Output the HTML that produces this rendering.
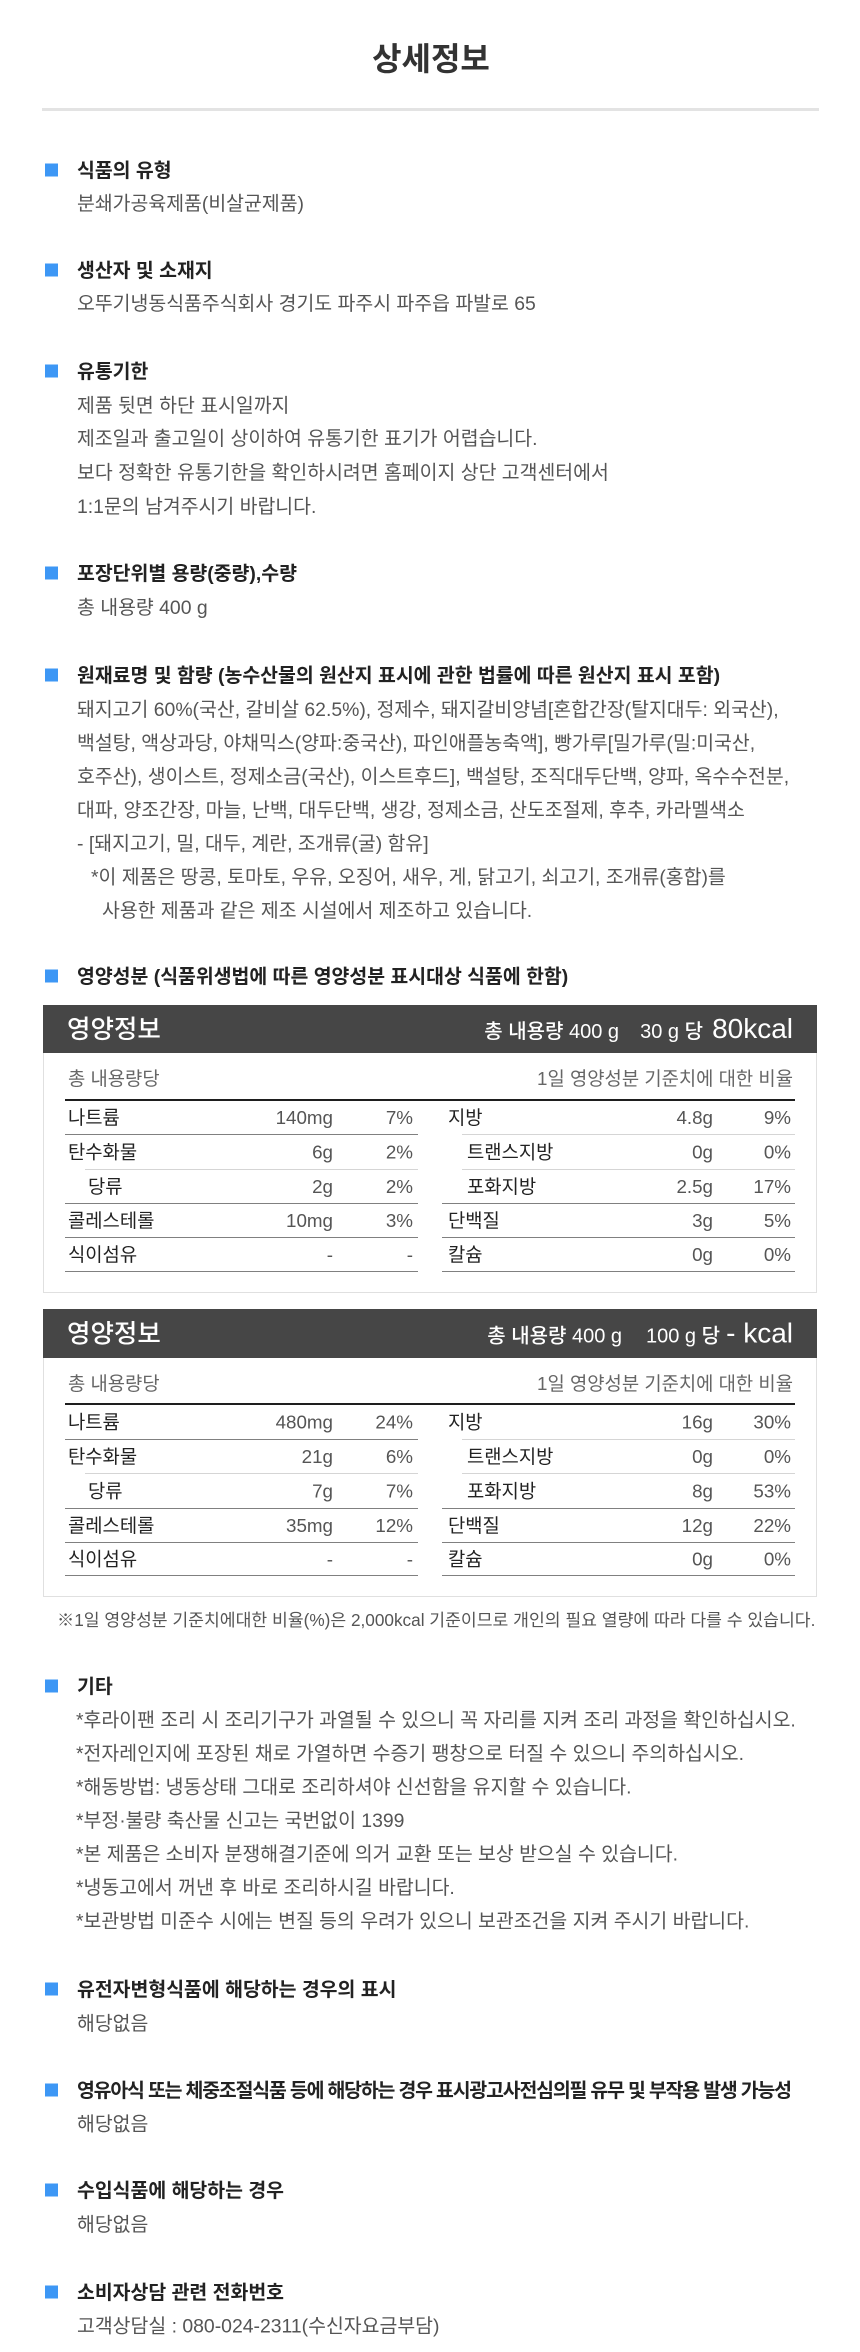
<!DOCTYPE html>
<html lang="ko">
<head>
<meta charset="utf-8">
<style>
html,body{margin:0;padding:0;background:#fff;}
body{width:860px;height:2352px;overflow:hidden;}
svg{display:block;}
text{font-family:"Liberation Sans","Noto Sans CJK KR",sans-serif;}
.t{font-size:32px;font-weight:700;fill:#333;}
.h{font-size:19.4px;font-weight:700;fill:#222;}
.b{font-size:19.4px;fill:#555;}
.sq{fill:#3d97f5;}
.hd{font-size:25.5px;fill:#fff;font-weight:500;}
.hr{font-size:20px;fill:#fff;font-weight:500;}
.hk{font-size:28px;fill:#fff;font-weight:500;}
.sub{font-size:18.8px;fill:#666;}
.lb{font-size:18.8px;fill:#222;}
.v{font-size:18.8px;fill:#555;}
.fn{font-size:17.2px;fill:#555;}
.dk{stroke:#808080;stroke-width:1;}
.lt{stroke:#d5d5d5;stroke-width:1;}
</style>
</head>
<body>
<svg width="860" height="2352" viewBox="0 0 860 2352" xmlns="http://www.w3.org/2000/svg">
<rect x="0" y="0" width="860" height="2352" fill="#fff"/>

<!-- Title -->
<text class="t" x="431" y="70" text-anchor="middle">상세정보</text>
<rect x="42" y="108" width="777" height="3" fill="#e3e3e3"/>

<!-- S1 -->
<rect class="sq" x="45" y="163.5" width="13" height="13"/>
<text class="h" x="77" y="177">식품의 유형</text>
<text class="b" x="77" y="210">분쇄가공육제품(비살균제품)</text>

<!-- S2 -->
<rect class="sq" x="45" y="263.5" width="13" height="13"/>
<text class="h" x="77" y="277">생산자 및 소재지</text>
<text class="b" x="77" y="310">오뚜기냉동식품주식회사 경기도 파주시 파주읍 파발로 65</text>

<!-- S3 -->
<rect class="sq" x="45" y="364.5" width="13" height="13"/>
<text class="h" x="77" y="378">유통기한</text>
<text class="b" x="77" y="412">제품 뒷면 하단 표시일까지</text>
<text class="b" x="77" y="445">제조일과 출고일이 상이하여 유통기한 표기가 어렵습니다.</text>
<text class="b" x="77" y="479">보다 정확한 유통기한을 확인하시려면 홈페이지 상단 고객센터에서</text>
<text class="b" x="77" y="513">1:1문의 남겨주시기 바랍니다.</text>

<!-- S4 -->
<rect class="sq" x="45" y="566.5" width="13" height="13"/>
<text class="h" x="77" y="580">포장단위별 용량(중량),수량</text>
<text class="b" x="77" y="614">총 내용량 400 g</text>

<!-- S5 -->
<rect class="sq" x="45" y="668.5" width="13" height="13"/>
<text class="h" x="77" y="682">원재료명 및 함량 (농수산물의 원산지 표시에 관한 법률에 따른 원산지 표시 포함)</text>
<text class="b" x="77" y="715.75">돼지고기 60%(국산, 갈비살 62.5%), 정제수, 돼지갈비양념[혼합간장(탈지대두: 외국산),</text>
<text class="b" x="77" y="749.25">백설탕, 액상과당, 야채믹스(양파:중국산), 파인애플농축액], 빵가루[밀가루(밀:미국산,</text>
<text class="b" x="77" y="782.75">호주산), 생이스트, 정제소금(국산), 이스트후드], 백설탕, 조직대두단백, 양파, 옥수수전분,</text>
<text class="b" x="77" y="816.25">대파, 양조간장, 마늘, 난백, 대두단백, 생강, 정제소금, 산도조절제, 후추, 카라멜색소</text>
<text class="b" x="77" y="849.75">- [돼지고기, 밀, 대두, 계란, 조개류(굴) 함유]</text>
<text class="b" x="91" y="883.25">*이 제품은 땅콩, 토마토, 우유, 오징어, 새우, 게, 닭고기, 쇠고기, 조개류(홍합)를</text>
<text class="b" x="102" y="916.75">사용한 제품과 같은 제조 시설에서 제조하고 있습니다.</text>

<!-- S6 -->
<rect class="sq" x="45" y="969.5" width="13" height="13"/>
<text class="h" x="77" y="983">영양성분 (식품위생법에 따른 영양성분 표시대상 식품에 한함)</text>

<!-- Table 1 -->
<g transform="translate(0,1005)">
  <rect x="43.5" y="0.5" width="773" height="287" fill="#fff" stroke="#e0e0e0" stroke-width="1"/>
  <rect x="43" y="0" width="774" height="48" fill="#464646"/>
  <text class="hd" x="67" y="33">영양정보</text>
  <text class="hr" x="619" y="33" text-anchor="end">총 내용량 400 g</text>
  <text class="hr" x="703" y="33" text-anchor="end">30 g 당</text>
  <text class="hk" x="793" y="33" text-anchor="end">80kcal</text>
  <text class="sub" x="68" y="80">총 내용량당</text>
  <text class="sub" x="793" y="80" text-anchor="end">1일 영양성분 기준치에 대한 비율</text>
  <rect x="65" y="94" width="730" height="2" fill="#1e1e1e"/>
  <line class="dk" x1="65" y1="129.5" x2="418" y2="129.5"/>
  <line class="lt" x1="85" y1="164.5" x2="418" y2="164.5"/>
  <line class="dk" x1="65" y1="198.5" x2="418" y2="198.5"/>
  <line class="dk" x1="65" y1="232.5" x2="418" y2="232.5"/>
  <line class="dk" x1="65" y1="266.5" x2="418" y2="266.5"/>
  <line class="lt" x1="462" y1="129.5" x2="795" y2="129.5"/>
  <line class="lt" x1="462" y1="164.5" x2="795" y2="164.5"/>
  <line class="dk" x1="442" y1="198.5" x2="795" y2="198.5"/>
  <line class="dk" x1="442" y1="232.5" x2="795" y2="232.5"/>
  <line class="dk" x1="442" y1="266.5" x2="795" y2="266.5"/>
  <text class="lb" x="68" y="119">나트륨</text>
  <text class="v" x="333" y="119" text-anchor="end">140mg</text>
  <text class="v" x="413" y="119" text-anchor="end">7%</text>
  <text class="lb" x="68" y="153.5">탄수화물</text>
  <text class="v" x="333" y="153.5" text-anchor="end">6g</text>
  <text class="v" x="413" y="153.5" text-anchor="end">2%</text>
  <text class="lb" x="88" y="188">당류</text>
  <text class="v" x="333" y="188" text-anchor="end">2g</text>
  <text class="v" x="413" y="188" text-anchor="end">2%</text>
  <text class="lb" x="68" y="222">콜레스테롤</text>
  <text class="v" x="333" y="222" text-anchor="end">10mg</text>
  <text class="v" x="413" y="222" text-anchor="end">3%</text>
  <text class="lb" x="68" y="256">식이섬유</text>
  <text class="v" x="333" y="256" text-anchor="end">-</text>
  <text class="v" x="413" y="256" text-anchor="end">-</text>
  <text class="lb" x="448" y="119">지방</text>
  <text class="v" x="713" y="119" text-anchor="end">4.8g</text>
  <text class="v" x="791" y="119" text-anchor="end">9%</text>
  <text class="lb" x="467" y="153.5">트랜스지방</text>
  <text class="v" x="713" y="153.5" text-anchor="end">0g</text>
  <text class="v" x="791" y="153.5" text-anchor="end">0%</text>
  <text class="lb" x="467" y="188">포화지방</text>
  <text class="v" x="713" y="188" text-anchor="end">2.5g</text>
  <text class="v" x="791" y="188" text-anchor="end">17%</text>
  <text class="lb" x="448" y="222">단백질</text>
  <text class="v" x="713" y="222" text-anchor="end">3g</text>
  <text class="v" x="791" y="222" text-anchor="end">5%</text>
  <text class="lb" x="448" y="256">칼슘</text>
  <text class="v" x="713" y="256" text-anchor="end">0g</text>
  <text class="v" x="791" y="256" text-anchor="end">0%</text>
</g>

<!-- Table 2 -->
<g transform="translate(0,1309)">
  <rect x="43.5" y="0.5" width="773" height="287" fill="#fff" stroke="#e0e0e0" stroke-width="1"/>
  <rect x="43" y="0" width="774" height="49" fill="#464646"/>
  <text class="hd" x="67" y="33.5">영양정보</text>
  <text class="hr" x="622" y="33.5" text-anchor="end">총 내용량 400 g</text>
  <text class="hr" x="720" y="33.5" text-anchor="end">100 g 당</text>
  <text class="hk" x="793" y="33.5" text-anchor="end">- kcal</text>
  <text class="sub" x="68" y="81">총 내용량당</text>
  <text class="sub" x="793" y="81" text-anchor="end">1일 영양성분 기준치에 대한 비율</text>
  <rect x="65" y="94" width="730" height="2" fill="#1e1e1e"/>
  <line class="dk" x1="65" y1="130.5" x2="418" y2="130.5"/>
  <line class="lt" x1="85" y1="164.5" x2="418" y2="164.5"/>
  <line class="dk" x1="65" y1="199.5" x2="418" y2="199.5"/>
  <line class="dk" x1="65" y1="233.5" x2="418" y2="233.5"/>
  <line class="dk" x1="65" y1="266.5" x2="418" y2="266.5"/>
  <line class="lt" x1="462" y1="130.5" x2="795" y2="130.5"/>
  <line class="lt" x1="462" y1="164.5" x2="795" y2="164.5"/>
  <line class="dk" x1="442" y1="199.5" x2="795" y2="199.5"/>
  <line class="dk" x1="442" y1="233.5" x2="795" y2="233.5"/>
  <line class="dk" x1="442" y1="266.5" x2="795" y2="266.5"/>
  <text class="lb" x="68" y="119.5">나트륨</text>
  <text class="v" x="333" y="119.5" text-anchor="end">480mg</text>
  <text class="v" x="413" y="119.5" text-anchor="end">24%</text>
  <text class="lb" x="68" y="154">탄수화물</text>
  <text class="v" x="333" y="154" text-anchor="end">21g</text>
  <text class="v" x="413" y="154" text-anchor="end">6%</text>
  <text class="lb" x="88" y="188.5">당류</text>
  <text class="v" x="333" y="188.5" text-anchor="end">7g</text>
  <text class="v" x="413" y="188.5" text-anchor="end">7%</text>
  <text class="lb" x="68" y="223">콜레스테롤</text>
  <text class="v" x="333" y="223" text-anchor="end">35mg</text>
  <text class="v" x="413" y="223" text-anchor="end">12%</text>
  <text class="lb" x="68" y="256.5">식이섬유</text>
  <text class="v" x="333" y="256.5" text-anchor="end">-</text>
  <text class="v" x="413" y="256.5" text-anchor="end">-</text>
  <text class="lb" x="448" y="119.5">지방</text>
  <text class="v" x="713" y="119.5" text-anchor="end">16g</text>
  <text class="v" x="791" y="119.5" text-anchor="end">30%</text>
  <text class="lb" x="467" y="154">트랜스지방</text>
  <text class="v" x="713" y="154" text-anchor="end">0g</text>
  <text class="v" x="791" y="154" text-anchor="end">0%</text>
  <text class="lb" x="467" y="188.5">포화지방</text>
  <text class="v" x="713" y="188.5" text-anchor="end">8g</text>
  <text class="v" x="791" y="188.5" text-anchor="end">53%</text>
  <text class="lb" x="448" y="223">단백질</text>
  <text class="v" x="713" y="223" text-anchor="end">12g</text>
  <text class="v" x="791" y="223" text-anchor="end">22%</text>
  <text class="lb" x="448" y="256.5">칼슘</text>
  <text class="v" x="713" y="256.5" text-anchor="end">0g</text>
  <text class="v" x="791" y="256.5" text-anchor="end">0%</text>
</g>

<!-- footnote -->
<text class="fn" x="57" y="1626">※1일 영양성분 기준치에대한 비율(%)은 2,000kcal 기준이므로 개인의 필요 열량에 따라 다를 수 있습니다.</text>

<!-- S7 기타 -->
<rect class="sq" x="45" y="1679.5" width="13" height="13"/>
<text class="h" x="77" y="1693">기타</text>
<text class="b" x="76" y="1726.5">*후라이팬 조리 시 조리기구가 과열될 수 있으니 꼭 자리를 지켜 조리 과정을 확인하십시오.</text>
<text class="b" x="76" y="1760">*전자레인지에 포장된 채로 가열하면 수증기 팽창으로 터질 수 있으니 주의하십시오.</text>
<text class="b" x="76" y="1793.5">*해동방법: 냉동상태 그대로 조리하셔야 신선함을 유지할 수 있습니다.</text>
<text class="b" x="76" y="1827">*부정·불량 축산물 신고는 국번없이 1399</text>
<text class="b" x="76" y="1860.5">*본 제품은 소비자 분쟁해결기준에 의거 교환 또는 보상 받으실 수 있습니다.</text>
<text class="b" x="76" y="1894">*냉동고에서 꺼낸 후 바로 조리하시길 바랍니다.</text>
<text class="b" x="76" y="1927.5">*보관방법 미준수 시에는 변질 등의 우려가 있으니 보관조건을 지켜 주시기 바랍니다.</text>

<!-- S8 -->
<rect class="sq" x="45" y="1982.5" width="13" height="13"/>
<text class="h" x="77" y="1996">유전자변형식품에 해당하는 경우의 표시</text>
<text class="b" x="77" y="2030">해당없음</text>

<!-- S9 -->
<rect class="sq" x="45" y="2083.5" width="13" height="13"/>
<text class="h" x="77" y="2097" textLength="715" lengthAdjust="spacing">영유아식 또는 체중조절식품 등에 해당하는 경우 표시광고사전심의필 유무 및 부작용 발생 가능성</text>
<text class="b" x="77" y="2130.5">해당없음</text>

<!-- S10 -->
<rect class="sq" x="45" y="2183.5" width="13" height="13"/>
<text class="h" x="77" y="2197">수입식품에 해당하는 경우</text>
<text class="b" x="77" y="2231">해당없음</text>

<!-- S11 -->
<rect class="sq" x="45" y="2285.5" width="13" height="13"/>
<text class="h" x="77" y="2299">소비자상담 관련 전화번호</text>
<text class="b" x="77" y="2332.5">고객상담실 : 080-024-2311(수신자요금부담)</text>
</svg>
</body>
</html>
